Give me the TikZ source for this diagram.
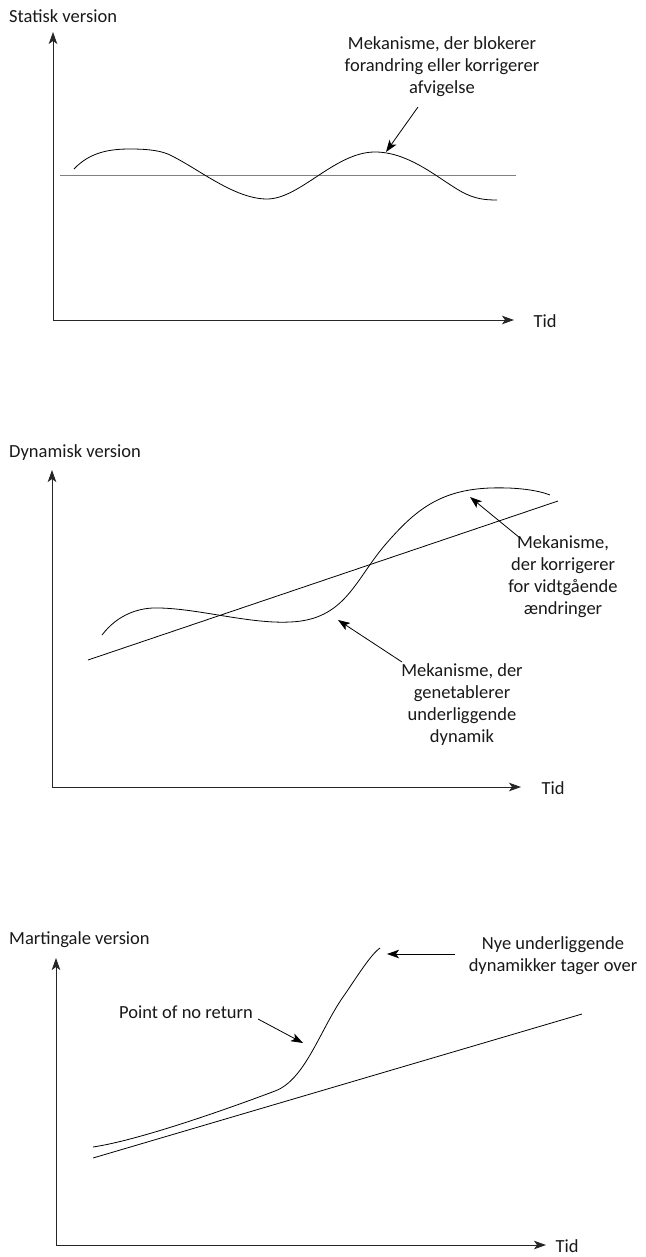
\documentclass[tikz,border=0pt]{standalone}
\usepackage{fontspec}
\setmainfont{Carlito}
\usetikzlibrary{arrows.meta}
\begin{document}
\begin{tikzpicture}[x=1pt,y=-1pt,
  txt/.style={inner sep=0pt,text=black!90,font=\fontsize{18.5}{22}\selectfont},
  lbl/.style={txt,align=center},
  axis/.style={line width=0.9pt,black!85,-{Stealth[length=12pt,width=8.5pt,inset=3pt]}},
  curve/.style={line width=0.8pt,black},
  refline/.style={line width=0.8pt,black},
  hline/.style={line width=1.6pt,black!50},
  pointer/.style={line width=0.8pt,black,-{Stealth[length=12pt,width=8.5pt,inset=3pt]}}]
\useasboundingbox[fill=white] (0,0) rectangle (645,1257);

% ---------- Panel 1: Statisk version ----------
\coordinate (o1) at (53,320);
\coordinate (y1) at (53,32);
\coordinate (x1) at (514,320);
\draw[axis] (o1) -- (y1);
\draw[axis] (o1) -- (x1);
\node[txt,anchor=west] (t1) at (9,16) {Statisk version};
\node[txt] (tid1) at (545,321) {Tid};
\coordinate (h1a) at (60,175.5);
\coordinate (h1b) at (516,175.5);
\draw[hline] (h1a) -- (h1b);
\draw[curve] (74,169) .. controls (90,152) and (110,149) .. (130,149)
  .. controls (150,149) and (163,151) .. (172,156)
  .. controls (200,170) and (235,199) .. (267,199)
  .. controls (300,199) and (335,152) .. (375,152)
  .. controls (410,152) and (440,180) .. (462,192)
  .. controls (475,199) and (485,200) .. (497,200);
\node[lbl] (n1) at (442,67) {Mekanisme, der blokerer\\forandring eller korrigerer\\afvigelse};
\coordinate (p1a) at (418,107);
\coordinate (p1b) at (386,152);
\draw[pointer] (p1a) -- (p1b);

% ---------- Panel 2: Dynamisk version ----------
\coordinate (o2) at (52,787);
\coordinate (y2) at (52,470);
\coordinate (x2) at (521,787);
\draw[axis] (o2) -- (y2);
\draw[axis] (o2) -- (x2);
\node[txt,anchor=west] (t2) at (9,453) {Dynamisk version};
\node[txt] (tid2) at (553,788) {Tid};
\coordinate (l2a) at (88,660);
\coordinate (l2b) at (558,501);
\draw[refline] (l2a) -- (l2b);
\draw[curve] (102,635) .. controls (118,614) and (140,607) .. (160,608)
  .. controls (200,609) and (250,624) .. (290,622)
  .. controls (345,620) and (355,580) .. (385,545)
  .. controls (415,510) and (440,490) .. (490,488)
  .. controls (520,487) and (540,491) .. (550,495);
\node[lbl] (n2a) at (563,577) {Mekanisme,\\der korrigerer\\for vidtgående\\ændringer};
\coordinate (p2a) at (520,538);
\coordinate (p2b) at (470,497);
\draw[pointer] (p2a) -- (p2b);
\node[lbl] (n2b) at (462,705) {Mekanisme, der\\genetablerer\\underliggende\\dynamik};
\coordinate (p2c) at (402,662);
\coordinate (p2d) at (338,620);
\draw[pointer] (p2c) -- (p2d);

% ---------- Panel 3: Martingale version ----------
\coordinate (o3) at (56,1245);
\coordinate (y3) at (56,958);
\coordinate (x3) at (546,1245);
\draw[axis] (o3) -- (y3);
\draw[axis] (o3) -- (x3);
\node[txt,anchor=west] (t3) at (9,940) {Martingale version};
\node[txt] (tid3) at (567,1246) {Tid};
\coordinate (l3a) at (93,1158);
\coordinate (l3b) at (582,1014);
\draw[refline] (l3a) -- (l3b);
\draw[curve] (93,1147) .. controls (140,1140) and (230,1108) .. (275,1091)
  .. controls (305,1080) and (320,1030) .. (343,997)
  .. controls (355,980) and (370,955) .. (380,948);
\node[txt] (n3a) at (186,1012) {Point of no return};
\coordinate (p3a) at (258,1019);
\coordinate (p3b) at (303,1043);
\draw[pointer] (p3a) -- (p3b);
\node[lbl] (n3b) at (553,956) {Nye underliggende\\dynamikker tager over};
\coordinate (p3c) at (455,954);
\coordinate (p3d) at (387,954);
\draw[pointer] (p3c) -- (p3d);
\end{tikzpicture}
\end{document}
